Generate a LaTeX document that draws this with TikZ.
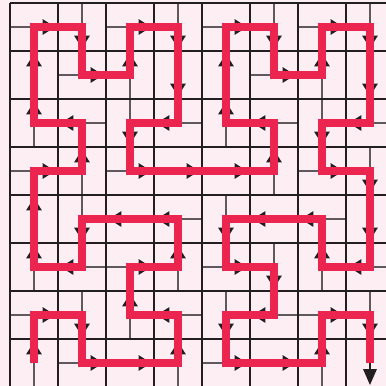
\documentclass[tikz,border=0pt]{standalone}
\definecolor{bgpink}{RGB}{253,238,244}
\definecolor{curvered}{RGB}{236,36,80}
\definecolor{inkblack}{RGB}{35,31,32}
\definecolor{wallgrey}{RGB}{95,88,92}
\tikzset{
  cellline/.style={inkblack, line width=1.5pt},
  halfline/.style={wallgrey, line width=0.8pt},
  curve/.style={curvered, line width=4.8pt, line join=miter},
  dirmark/.style={inkblack},
}
% cell/exit-angle of the curve, in order
\def\hilbertcells{0/0/90, 0/1/0, 1/1/270, 1/0/0, 2/0/0, 3/0/90, 3/1/180, 2/1/90,
  2/2/0, 3/2/90, 3/3/180, 2/3/180, 1/3/270, 1/2/180, 0/2/90, 0/3/90,
  0/4/0, 1/4/90, 1/5/180, 0/5/90, 0/6/90, 0/7/0, 1/7/270, 1/6/0,
  2/6/90, 2/7/0, 3/7/270, 3/6/270, 3/5/180, 2/5/270, 2/4/0, 3/4/0,
  4/4/0, 5/4/90, 5/5/180, 4/5/90, 4/6/90, 4/7/0, 5/7/270, 5/6/0,
  6/6/90, 6/7/0, 7/7/270, 7/6/270, 7/5/180, 6/5/270, 6/4/0, 7/4/270,
  7/3/270, 7/2/180, 6/2/90, 6/3/180, 5/3/180, 4/3/270, 4/2/0, 5/2/270,
  5/1/180, 4/1/270, 4/0/0, 5/0/0, 6/0/90, 6/1/0, 7/1/270}
\begin{document}
\begin{tikzpicture}
\useasboundingbox (-0.208,0.021) rectangle (7.833,8.063);
\clip (-0.208,0.021) rectangle (7.833,8.063);
\fill[bgpink] (-0.208,0.021) rectangle (7.833,8.063);
\begin{scope}[shift={(0.500,0.500)}]
\foreach \x/\y/\a in \hilbertcells {
  \draw[halfline, shift={(\x,\y)}, rotate=\a] (-0.500,0) -- (0,0);
}
\end{scope}
\foreach \i in {0,...,8} {
  \draw[cellline] (\i,0) -- (\i,8);
  \draw[cellline] (0,\i) -- (8,\i);
}
\begin{scope}[shift={(0.500,0.500)}]
\foreach \x/\y/\a in \hilbertcells {
  \fill[dirmark, shift={(\x,\y)}, rotate=\a] (0.180,-0.165) -- (0.440,0) -- (0.180,0.165) -- cycle;
}
\draw[curve] (0,0) -- (0,1) -- (1,1) -- (1,0) -- (3,0) -- (3,1) -- (2,1) -- (2,2)
  -- (3,2) -- (3,3) -- (1,3) -- (1,2) -- (0,2) -- (0,4) -- (1,4) -- (1,5)
  -- (0,5) -- (0,7) -- (1,7) -- (1,6) -- (2,6) -- (2,7) -- (3,7) -- (3,5)
  -- (2,5) -- (2,4) -- (5,4) -- (5,5) -- (4,5) -- (4,7) -- (5,7) -- (5,6)
  -- (6,6) -- (6,7) -- (7,7) -- (7,5) -- (6,5) -- (6,4) -- (7,4) -- (7,2)
  -- (6,2) -- (6,3) -- (4,3) -- (4,2) -- (5,2) -- (5,1) -- (4,1) -- (4,0)
  -- (6,0) -- (6,1) -- (7,1) -- (7,0);
\draw[inkblack, line width=1pt] (7,0) -- (7,-0.150);
\fill[inkblack] (6.854,-0.125) -- (7,-0.458) -- (7.146,-0.125) -- cycle;
\end{scope}
\end{tikzpicture}
\end{document}
